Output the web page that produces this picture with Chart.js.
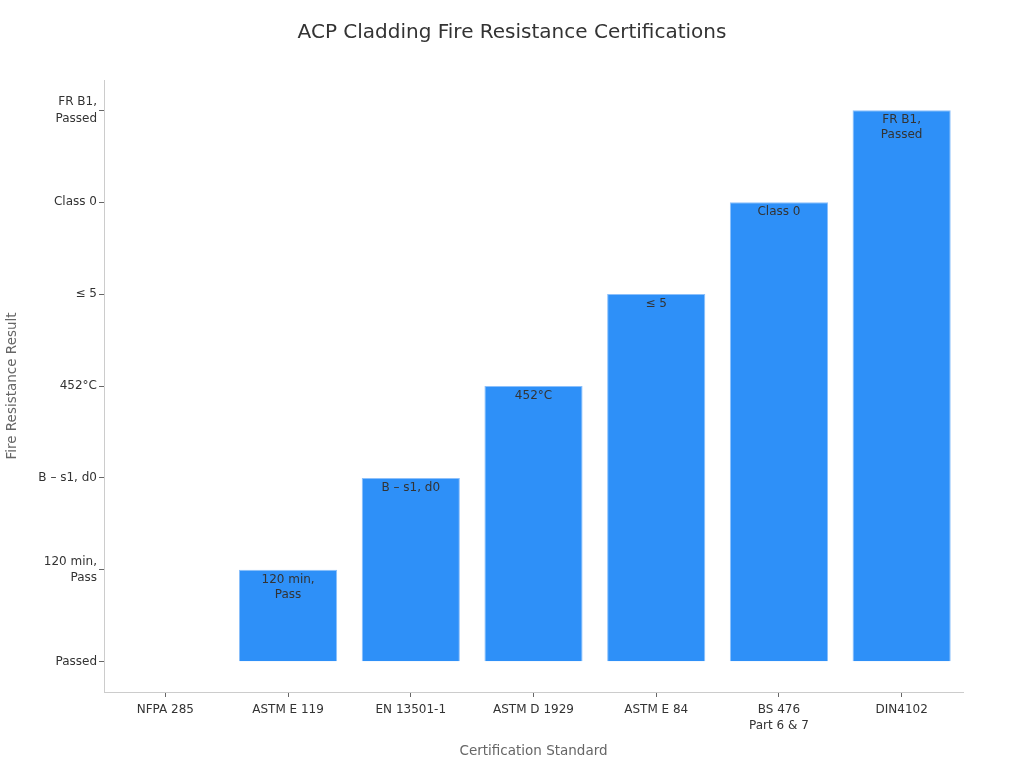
<!DOCTYPE html>
<html>
<head>
<meta charset="utf-8">
<script src="https://cdn.jsdelivr.net/npm/chart.js@4.4.0/dist/chart.umd.min.js"></script>
<style>
  html, body { margin: 0; padding: 0; background: #fff; }
  #wrap { width: 1024px; height: 768px; }
</style>
</head>
<body>
<div id="wrap"><canvas id="barChart"></canvas></div>
<script>
const categories = ["NFPA 285", "ASTM E 119", "EN 13501-1", "ASTM D 1929", "ASTM E 84", ["BS 476", "Part 6 & 7"], "DIN4102"];
const yLabels = ["Passed", ["120 min,", "Pass"], "B – s1, d0", "452°C", "≤ 5", "Class 0", ["FR B1,", "Passed"]];
const resultLevel = [0, 1, 2, 3, 4, 5, 6];
const barText = [null, ["120 min,", "Pass"], ["B – s1, d0"], ["452°C"], ["≤ 5"], ["Class 0"], ["FR B1,", "Passed"]];
const chartTitle = "ACP Cladding Fire Resistance Certifications";

Chart.defaults.font.family = "'DejaVu Sans', sans-serif";

// draw the result text inside the top of each bar, plus the page title
const barLabels = {
  id: "barLabels",
  afterDatasetsDraw(chart) {
    const ctx = chart.ctx;
    const meta = chart.getDatasetMeta(0);
    ctx.save();
    ctx.font = "12px 'DejaVu Sans', sans-serif";
    ctx.fillStyle = "#333333";
    ctx.textAlign = "center";
    ctx.textBaseline = "middle";
    meta.data.forEach((bar, i) => {
      const lines = barText[i];
      if (!lines || resultLevel[i] === 0) return;
      lines.forEach((line, k) => {
        ctx.fillText(line, bar.x, bar.y + 10 + k * 15);
      });
    });
    // title centred on the whole canvas
    ctx.font = "20px 'DejaVu Sans', sans-serif";
    ctx.fillText(chartTitle, chart.width / 2, 33);
    ctx.restore();
  },
};

const barChart = document.querySelector("#barChart");
const graph = new Chart(barChart, {
  type: "bar",
  data: {
    labels: categories,
    datasets: [
      {
        data: resultLevel,
        backgroundColor: "#2e90f8",
        borderColor: "#8cc0fb",
        borderWidth: 1,
        categoryPercentage: 0.8,
        barPercentage: 1,
      },
    ],
  },
  options: {
    responsive: true,
    maintainAspectRatio: false,
    animation: false,
    layout: { padding: { left: 0, right: 61, top: 80, bottom: 4 } },
    plugins: {
      legend: { display: false },
      tooltip: { enabled: false },
      title: { display: false },
    },
    scales: {
      x: {
        grid: { drawOnChartArea: false, drawTicks: true, tickLength: 5, color: "#666666", offset: false },
        border: { color: "#cccccc" },
        ticks: { color: "#333333", font: { size: 12, lineHeight: 1.35 }, padding: 5 },
        title: {
          display: true,
          text: "Certification Standard",
          color: "#666666",
          font: { size: 13.5 },
          padding: { top: 4.4 },
        },
      },
      y: {
        min: -0.33,
        max: 6.33,
        afterBuildTicks(scale) {
          scale.ticks = yLabels.map((_, i) => ({ value: i }));
        },
        afterFit(scale) {
          scale.width = 104;
        },
        grid: { drawOnChartArea: false, drawTicks: true, tickLength: 5, color: "#666666" },
        border: { color: "#cccccc" },
        ticks: {
          color: "#333333",
          font: { size: 12, lineHeight: 1.35 },
          padding: 2,
          callback: (value) => yLabels[value],
        },
        title: {
          display: true,
          text: "Fire Resistance Result",
          color: "#666666",
          font: { size: 13.5 },
          padding: { top: 4, bottom: 4 },
        },
      },
    },
  },
  plugins: [barLabels],
});
</script>
</body>
</html>
